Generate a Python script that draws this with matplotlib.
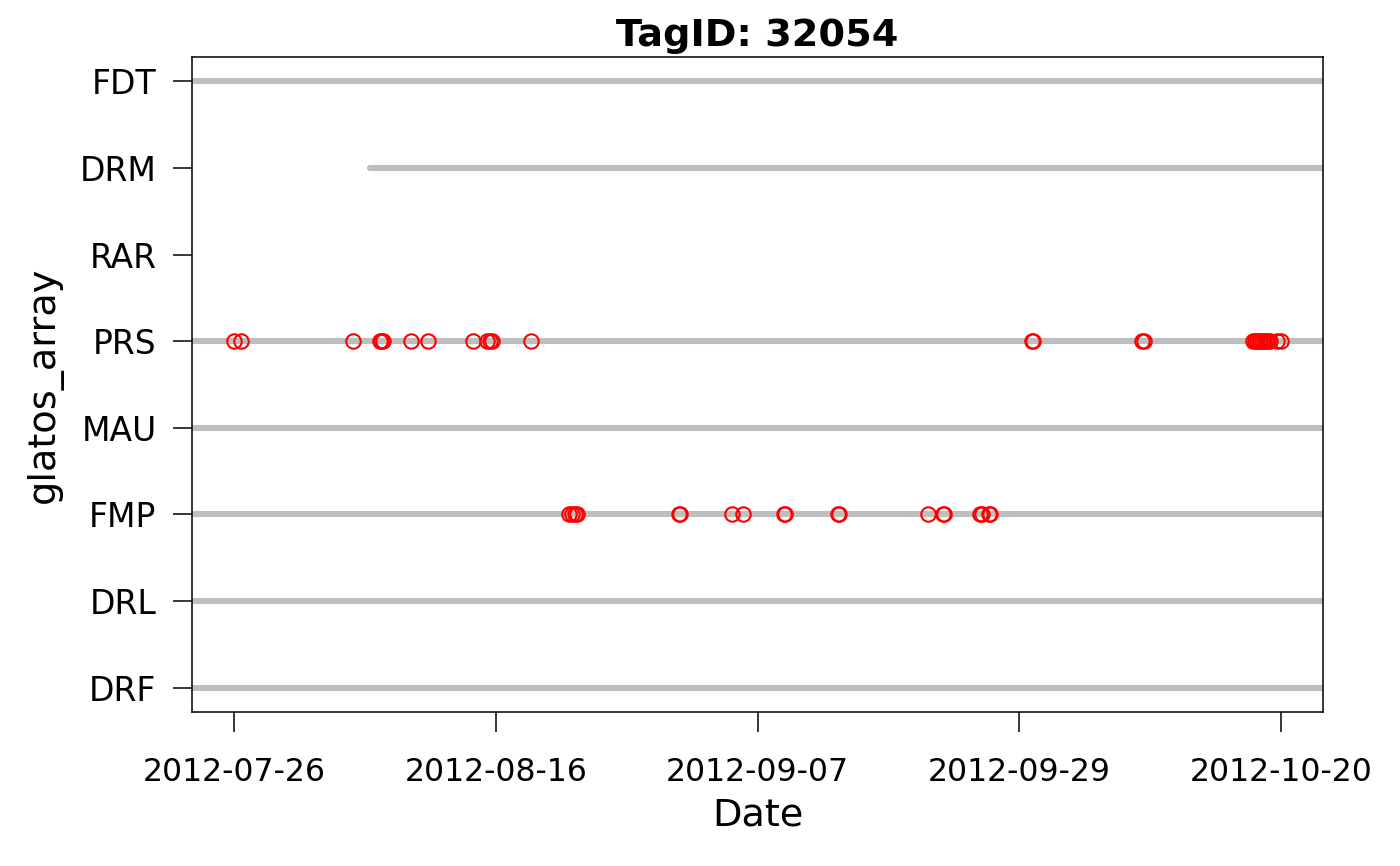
import numpy as np
import pandas as pd
import matplotlib
matplotlib.use("Agg")
import matplotlib.pyplot as plt
import matplotlib.dates as mdates

# receiver arrays, bottom to top
arrays = ["DRF", "DRL", "FMP", "MAU", "PRS", "RAR", "DRM", "FDT"]

# receiver deployment periods (None = no receiver)
deploy_start = ["2012-04-20", "2012-04-20", "2012-04-20", "2012-04-20",
                "2012-04-20", None, "2012-08-06 16:48", "2012-04-20"]
deploy_end = ["2012-11-30", "2012-11-30", "2012-11-30", "2012-11-30",
              "2012-11-30", None, "2012-11-30", "2012-11-30"]

# detections of tag 32054
prs_times = [
    "2012-07-26 12:00", "2012-07-27 01:40", "2012-08-05 07:40",
    "2012-08-07 11:30", "2012-08-07 14:25", "2012-08-07 17:30",
    "2012-08-10 01:55", "2012-08-11 10:35", "2012-08-15 04:00",
    "2012-08-16 07:40", "2012-08-16 12:15", "2012-08-16 17:30",
    "2012-08-19 22:20", "2012-09-30 01:12", "2012-09-30 03:36",
    "2012-10-09 02:24", "2012-10-09 04:48", "2012-10-18 04:48",
    "2012-10-18 08:24", "2012-10-18 12:00", "2012-10-18 15:36",
    "2012-10-18 19:12", "2012-10-18 22:48", "2012-10-19 02:24",
    "2012-10-19 06:00", "2012-10-19 09:36", "2012-10-19 13:12",
    "2012-10-20 04:05", "2012-10-20 12:00",
]
fmp_times = [
    "2012-08-23 00:00", "2012-08-23 06:00", "2012-08-23 12:00",
    "2012-08-23 16:48", "2012-09-01 02:00", "2012-09-01 03:50",
    "2012-09-05 10:05", "2012-09-06 07:00", "2012-09-09 16:48",
    "2012-09-09 18:43", "2012-09-14 01:55", "2012-09-14 03:50",
    "2012-09-21 11:20", "2012-09-22 18:00", "2012-09-22 19:55",
    "2012-09-25 19:12", "2012-09-25 22:48", "2012-09-26 12:00",
    "2012-09-26 14:53",
]

tick_labels = ["2012-07-26", "2012-08-16", "2012-09-07", "2012-09-29", "2012-10-20"]

plt.rcParams["font.family"] = "DejaVu Sans"

fig = plt.figure(figsize=(14, 8.66), dpi=100)
ax = fig.add_axes([192 / 1400, 1 - 712 / 866, (1323 - 192) / 1400, (712 - 57) / 866])

ypos = {a: i + 1 for i, a in enumerate(arrays)}

for a, s, e in zip(arrays, deploy_start, deploy_end):
    if s is None:
        continue
    ax.plot([pd.Timestamp(s), pd.Timestamp(e)], [ypos[a], ypos[a]],
            color="#BEBEBE", lw=4.4, solid_capstyle="round", zorder=1)

det = pd.DataFrame({
    "time": pd.to_datetime(prs_times + fmp_times),
    "array": ["PRS"] * len(prs_times) + ["FMP"] * len(fmp_times),
})
ax.plot(det["time"], det["array"].map(ypos), "o", ls="none",
        mfc="none", mec="red", ms=10.4, mew=1.5, zorder=3)

# x limits from detection range, R style 4% extension
tmin = mdates.date2num(det["time"].min())
tmax = mdates.date2num(det["time"].max())
ext = (tmax - tmin) * 0.04
ax.set_xlim(tmin - ext, tmax + ext)
ax.set_ylim(1 - 7 * 0.04, len(arrays) + 7 * 0.04)

ax.set_xticks(np.linspace(tmin, tmax, 5))
ax.set_xticklabels(tick_labels)
ax.set_yticks(list(ypos.values()))
ax.set_yticklabels(arrays)

ax.tick_params(axis="x", length=14.5, width=1.1, labelsize=22.7, pad=18)
ax.tick_params(axis="y", length=13.5, width=1.1, labelsize=23.8, pad=12)
for sp in ax.spines.values():
    sp.set_linewidth(1.1)

ax.set_xlabel("Date", fontsize=27.5, labelpad=7)
ax.set_ylabel("glatos_array", fontsize=27.5, labelpad=12)
ax.set_title("TagID: 32054", fontsize=27.5, fontweight="bold", pad=8)

fig.savefig("out.png", dpi=100)
